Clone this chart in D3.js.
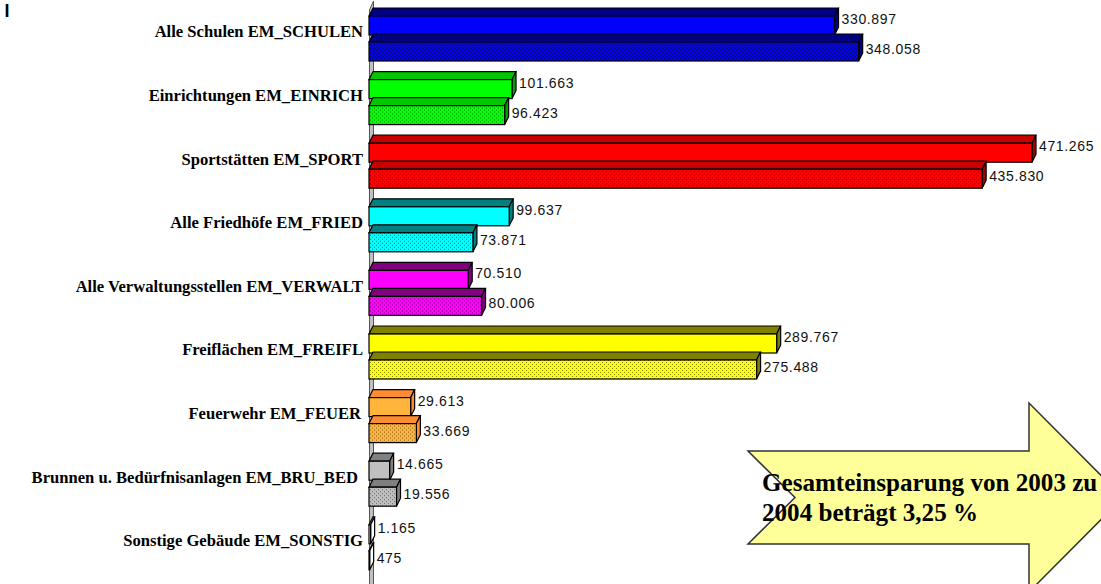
<!DOCTYPE html>
<html>
<head>
<meta charset="utf-8">
<script src="https://cdn.jsdelivr.net/npm/d3@7"></script>
<style>
html, body { margin: 0; padding: 0; background: #fff; overflow: hidden; }
svg { display: block; }
.cat { font-family: "Liberation Serif", serif; font-weight: bold; font-size: 16.6px; fill: #000; text-anchor: end; }
.val { font-family: "Liberation Sans", sans-serif; font-size: 14px; letter-spacing: 0.65px; fill: #111; }
.note { font-family: "Liberation Serif", serif; font-weight: bold; font-size: 25.1px; fill: #000; }
</style>
</head>
<body>
<svg id="chart" width="1101" height="584"></svg>
<script>
var categories = ["Alle Schulen EM_SCHULEN", "Einrichtungen EM_EINRICH", "Sportstätten EM_SPORT",
    "Alle Friedhöfe EM_FRIED", "Alle Verwaltungsstellen EM_VERWALT", "Freiflächen EM_FREIFL",
    "Feuerwehr EM_FEUER", "Brunnen u. Bedürfnisanlagen EM_BRU_BED", "Sonstige Gebäude EM_SONSTIG"];
var catShift = [0, 0, 0, 0, 0, 0, 2, 5, 0];
var values2003 = [330897, 101663, 471265, 99637, 70510, 289767, 29613, 14665, 1165];
var values2004 = [348058, 96423, 435830, 73871, 80006, 275488, 33669, 19556, 475];
var labels2003 = ["330.897", "101.663", "471.265", "99.637", "70.510", "289.767", "29.613", "14.665", "1.165"];
var labels2004 = ["348.058", "96.423", "435.830", "73.871", "80.006", "275.488", "33.669", "19.556", "475"];
var frontColors = ["#0000ff", "#00ff00", "#ff0000", "#00ffff", "#ff00ff", "#ffff00", "#ffb43c", "#c0c0c0", "#ffffff"];
var topColors = ["#000080", "#00c800", "#c80000", "#008080", "#800080", "#808000", "#ff8c32", "#808080", "#ffffff"];
var sideColors = ["#000080", "#00a000", "#a00000", "#008080", "#800080", "#808000", "#ff8c32", "#808080", "#ffffff"];
var series = ["2003", "2004"];
var noteLines = ["Gesamteinsparung von 2003 zu", "2004 beträgt 3,25 %"];

var svg = d3.select("#chart");

var depthX = 4, depthY = 8, frontH = 19;

var x = d3.scaleLinear().domain([0, 471265]).range([369, 1032]);
var y = d3.scaleBand().domain(categories).range([8, 580.4]);
var ySeries = d3.scaleBand().domain(series).range([0, 52]);
var yLabel = d3.scalePoint().domain(series).range([11, 41]);

// dotted fill used for the second series
var defs = svg.append("defs");
frontColors.forEach(function (c, i) {
    var p = defs.append("pattern")
        .attr("id", "dots" + i)
        .attr("width", 4).attr("height", 4)
        .attr("patternUnits", "userSpaceOnUse");
    p.append("rect").attr("width", 4).attr("height", 4).attr("fill", c);
    p.append("rect").attr("x", 0).attr("y", 0).attr("width", 1).attr("height", 1).attr("fill", "#000").attr("opacity", 0.5);
    p.append("rect").attr("x", 2).attr("y", 2).attr("width", 1).attr("height", 1).attr("fill", "#000").attr("opacity", 0.5);
});

// wall behind the bars
svg.append("path")
    .attr("d", "M369.5,584V10L" + (369.5 + depthX) + ",1V584")
    .attr("fill", "#c0c0c0")
    .attr("stroke", "#555")
    .attr("stroke-width", 1);

var rows = [];
categories.forEach(function (c, i) {
    rows.push({ cat: c, i: i, s: "2003", v: values2003[i], label: labels2003[i] });
    rows.push({ cat: c, i: i, s: "2004", v: values2004[i], label: labels2004[i] });
});

var bar = svg.selectAll("g.bar")
    .data(rows)
    .enter()
    .append("g")
    .attr("class", "bar")
    .attr("stroke", "#000")
    .attr("stroke-width", 1.2)
    .attr("transform", function (d) {
        return "translate(0," + (y(d.cat) + ySeries(d.s)) + ")";
    });

bar.append("path") // top face
    .attr("d", function (d) {
        var r = x(d.v);
        return "M" + x(0) + "," + depthY + "L" + (x(0) + depthX) + ",0H" + (r + depthX) + "L" + r + "," + depthY + "Z";
    })
    .attr("fill", function (d) { return topColors[d.i]; });

bar.append("path") // side face
    .attr("d", function (d) {
        var r = x(d.v);
        return "M" + r + "," + depthY + "L" + (r + depthX) + ",0V" + frontH + "L" + r + "," + (depthY + frontH) + "Z";
    })
    .attr("fill", function (d) { return sideColors[d.i]; });

bar.append("rect") // front face
    .attr("x", x(0))
    .attr("y", depthY)
    .attr("width", function (d) { return x(d.v) - x(0); })
    .attr("height", frontH)
    .attr("fill", function (d) {
        return d.s === "2003" ? frontColors[d.i] : "url(#dots" + d.i + ")";
    });

svg.selectAll("text.val")
    .data(rows)
    .enter()
    .append("text")
    .attr("class", "val")
    .attr("x", function (d) { return x(d.v) + depthX + 3; })
    .attr("y", function (d) { return y(d.cat) + yLabel(d.s); })
    .attr("dy", "0.36em")
    .text(function (d) { return d.label; });

svg.selectAll("text.cat")
    .data(categories)
    .enter()
    .append("text")
    .attr("class", "cat")
    .attr("x", function (d, i) { return 363 - catShift[i]; })
    .attr("y", function (d) { return y(d) + 24; })
    .attr("dy", "0.32em")
    .text(function (d) { return d; });

// the stray mark in the top left corner
svg.append("text")
    .attr("x", 4.5).attr("y", 17)
    .attr("font-family", "Liberation Sans, sans-serif")
    .attr("font-weight", "bold")
    .attr("font-size", 18)
    .text("I");

// arrow with the note
var arrow = d3.path();
arrow.moveTo(748, 451);
arrow.lineTo(1029, 451);
arrow.lineTo(1029, 403);
arrow.lineTo(1123, 497.5);
arrow.lineTo(1029, 592);
arrow.lineTo(1029, 544);
arrow.lineTo(748, 544);
arrow.lineTo(795, 497.5);
arrow.closePath();

svg.append("path")
    .attr("d", arrow.toString())
    .attr("fill", "#ffff99")
    .attr("stroke", "#333")
    .attr("stroke-width", 1.5);

svg.selectAll("text.note")
    .data(noteLines)
    .enter()
    .append("text")
    .attr("class", "note")
    .attr("x", 762)
    .attr("y", function (d, i) { return 491 + i * 30; })
    .text(function (d) { return d; });
</script>
</body>
</html>
